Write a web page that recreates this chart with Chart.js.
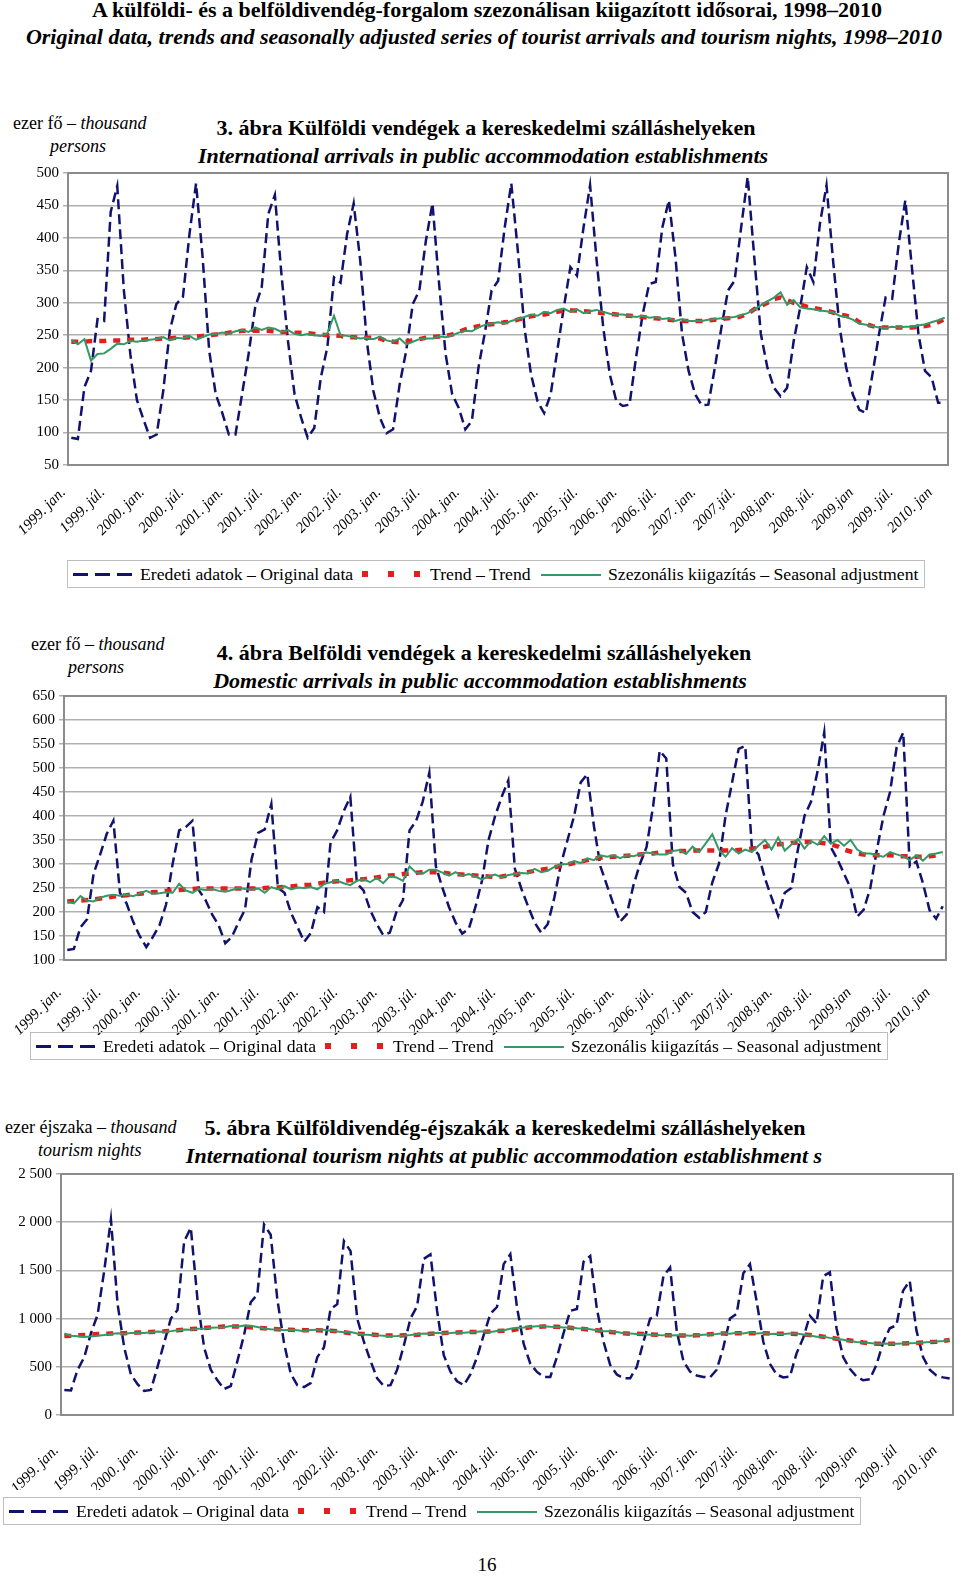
<!DOCTYPE html>
<html>
<head>
<meta charset="utf-8">
<script src="https://cdn.jsdelivr.net/npm/chart.js@4.4.1/dist/chart.umd.min.js"></script>
<style>
    body { margin: 0; background: #fff; }
    #page { position: relative; width: 960px; height: 1577px; overflow: hidden;
        font-family: "Liberation Serif", "Times New Roman", serif; color: #000; }
    .t { position: absolute; white-space: nowrap; line-height: 20px; }
    .c { transform: translateX(-50%); }
    .head { font-size: 22px; font-weight: bold; }
    .ttl { font-size: 22px; font-weight: bold; }
    .unit { font-size: 18px; }
    canvas { position: absolute; left: 0; }
    .legend { position: absolute; height: 28px; width: 858px; border: 1px solid #bdbdbd;
        box-sizing: border-box; font-size: 17.7px; }
    .legend span { position: absolute; top: 3px; line-height: 20px; white-space: nowrap; }
    .legend b { position: absolute; display: block; }
    .dash { left: 5px; top: 12px; width: 59px; height: 3px;
        background: repeating-linear-gradient(to right, #11116e 0 15px, transparent 15px 22px); }
    .dots { left: 294px; top: 10px; width: 58px; height: 6px;
        background: repeating-linear-gradient(to right, #e41e1e 0 6px, transparent 6px 26px); }
    .solid { left: 473px; top: 13px; width: 60px; height: 2px; background: #339966; }
</style>
</head>
<body>
<div id="page">
    <div class="t c head" style="left:487px; top:0px">A külföldi- és a belföldivendég-forgalom szezonálisan kiigazított idősorai, 1998–2010</div>
    <div class="t c head" style="left:484px; top:27px"><i>Original data, trends and seasonally adjusted series of tourist arrivals and tourism nights, 1998–2010</i></div>

    <div class="t unit" style="left:13px; top:113px">ezer fő – <i>thousand</i></div>
    <div class="t unit" style="left:50px; top:136px"><i>persons</i></div>
    <div class="t c ttl" style="left:486px; top:118px">3. ábra Külföldi vendégek a kereskedelmi szálláshelyeken</div>
    <div class="t c ttl" style="left:483px; top:146px"><i>International arrivals in public accommodation establishments</i></div>
    <canvas id="chart1" width="960" height="390" style="top:160px"></canvas>
    <div class="legend" style="left:67px; top:560px">
        <b class="dash"></b><span style="left:72px">Eredeti adatok – Original data</span>
        <b class="dots"></b><span style="left:362px">Trend – Trend</span>
        <b class="solid"></b><span style="left:540px">Szezonális kiigazítás – Seasonal adjustment</span>
    </div>

    <div class="t unit" style="left:31px; top:634px">ezer fő – <i>thousand</i></div>
    <div class="t unit" style="left:68px; top:657px"><i>persons</i></div>
    <div class="t c ttl" style="left:484px; top:643px">4. ábra Belföldi vendégek a kereskedelmi szálláshelyeken</div>
    <div class="t c ttl" style="left:480px; top:671px"><i>Domestic arrivals in public accommodation establishments</i></div>
    <canvas id="chart2" width="960" height="362" style="top:683px"></canvas>
    <div class="legend" style="left:30px; top:1032px">
        <b class="dash"></b><span style="left:72px">Eredeti adatok – Original data</span>
        <b class="dots"></b><span style="left:362px">Trend – Trend</span>
        <b class="solid"></b><span style="left:540px">Szezonális kiigazítás – Seasonal adjustment</span>
    </div>

    <div class="t unit" style="left:5px; top:1117px">ezer éjszaka – <i>thousand</i></div>
    <div class="t unit" style="left:38px; top:1140px"><i>tourism nights</i></div>
    <div class="t c ttl" style="left:505px; top:1118px">5. ábra Külföldivendég-éjszakák a kereskedelmi szálláshelyeken</div>
    <div class="t c ttl" style="left:504px; top:1146px"><i>International tourism nights at public accommodation establishment s</i></div>
    <canvas id="chart3" width="960" height="339" style="top:1161px"></canvas>
    <div class="legend" style="left:3px; top:1497px">
        <b class="dash"></b><span style="left:72px">Eredeti adatok – Original data</span>
        <b class="dots"></b><span style="left:362px">Trend – Trend</span>
        <b class="solid"></b><span style="left:540px">Szezonális kiigazítás – Seasonal adjustment</span>
    </div>

    <div class="t c" style="left:487px; top:1555px; font-size:19px">16</div>
</div>

<script>
// months 1999. jan. - 2010. febr.
const years = [1999, 2000, 2001, 2002, 2003, 2004, 2005, 2006, 2007, 2008, 2009, 2010];
const monthCount = 134;

const xTicks12 = ["1999. jan.", "1999. júl.", "2000. jan.", "2000. júl.", "2001. jan.", "2001. júl.",
    "2002. jan.", "2002. júl.", "2003. jan.", "2003. júl.", "2004. jan.", "2004. júl.", "2005. jan.",
    "2005. júl.", "2006. jan.", "2006. júl.", "2007. jan.", "2007.júl.", "2008.jan.", "2008. júl.",
    "2009.jan", "2009. júl.", "2010. jan"];
const xTicks3 = ["1999. jan.", "1999. júl.", "2000. jan.", "2000. júl.", "2001. jan.", "2001. júl.",
    "2002. jan.", "2002. júl.", "2003. jan.", "2003. júl.", "2004. jan.", "2004. júl.", "2005. jan.",
    "2005. júl.", "2006. jan.", "2006. júl.", "2007. jan.", "2007.júl.", "2008.jan.", "2008. júl.",
    "2009.jan", "2009. júl", "2010. jan"];

// 3. ábra - international arrivals (thousand persons)
const orig1 = [
    92, 90, 170, 195, 275, 272, 440, 480, 320, 220, 150, 120,
    92, 97, 164, 257, 298, 309, 406, 484, 370, 226, 159, 130,
    97, 97, 159, 221, 293, 324, 437, 466, 344, 241, 159, 123,
    92, 107, 185, 232, 339, 331, 406, 453, 365, 241, 164, 123,
    99, 105, 174, 226, 298, 319, 396, 453, 330, 221, 159, 138,
    105, 118, 200, 255, 319, 334, 416, 484, 380, 262, 190, 148,
    130, 159, 226, 293, 355, 342, 416, 481, 365, 262, 190, 148,
    141, 143, 216, 282, 329, 332, 416, 458, 370, 252, 195, 159,
    142, 143, 200, 262, 319, 334, 416, 494, 370, 252, 200, 169,
    156, 169, 241, 293, 355, 332, 422, 481, 365, 262, 200, 159,
    135, 130, 190, 252, 308, 306, 391, 458, 355, 252, 195, 185,
    146, 146];
const trend1 = [
    240, 240, 240, 241, 241, 241, 242, 242, 242, 243, 243, 243,
    244, 244, 245, 245, 246, 246, 247, 248, 249, 250, 251, 252,
    254, 255, 257, 257, 257, 257, 257, 256, 255, 255, 254, 254,
    253, 252, 251, 250, 250, 249, 247, 247, 246, 246, 246, 245,
    241, 240, 239, 240, 242, 244, 246, 247, 248, 249, 251, 255,
    259, 262, 264, 266, 267, 268, 270, 271, 274, 277, 279, 281,
    282, 284, 286, 288, 288, 288, 287, 286, 285, 284, 283, 282,
    281, 280, 279, 278, 277, 276, 275, 274, 273, 272, 272, 272,
    272, 273, 274, 275, 276, 277, 279, 283, 290, 295, 300, 306,
    308, 304, 300, 297, 294, 292, 290, 288, 285, 282, 280, 277,
    270, 267, 264, 262, 262, 262, 262, 262, 262, 263, 264, 266,
    270, 275];
const sa1 = [
    243, 236, 244, 211, 221, 222, 229, 237, 236, 241, 240, 242,
    243, 244, 247, 242, 246, 245, 249, 243, 247, 251, 252, 254,
    252, 256, 258, 255, 262, 258, 262, 260, 255, 258, 252, 250,
    252, 250, 249, 253, 280, 250, 249, 247, 245, 246, 244, 248,
    242, 240, 245, 236, 240, 244, 245, 245, 248, 247, 250, 254,
    257, 256, 262, 266, 268, 270, 268, 272, 275, 278, 282, 280,
    286, 284, 289, 291, 286, 290, 284, 287, 289, 286, 283, 282,
    282, 280, 278, 280, 277, 278, 275, 276, 272, 275, 272, 272,
    272, 274, 275, 276, 277, 278, 281, 284, 290, 296, 302, 308,
    316, 297, 304, 293, 291, 290, 288, 287, 285, 280, 278, 274,
    268, 266, 264, 262, 261, 263, 262, 263, 263, 265, 267, 270,
    273, 277];

// 4. ábra - domestic arrivals (thousand persons)
const orig2 = [
    121, 123, 168, 185, 280, 320, 363, 390, 240, 218, 180, 150,
    127, 148, 172, 215, 300, 370, 377, 390, 245, 225, 195, 172,
    135, 148, 178, 205, 310, 365, 372, 425, 250, 240, 198, 168,
    138, 156, 210, 200, 345, 370, 410, 440, 260, 245, 205, 175,
    152, 157, 200, 225, 370, 390, 430, 490, 295, 250, 210, 178,
    155, 165, 210, 265, 350, 400, 440, 474, 290, 248, 212, 178,
    157, 175, 230, 300, 350, 400, 470, 487, 380, 295, 255, 215,
    180, 195, 255, 300, 335, 420, 536, 520, 300, 252, 240, 200,
    188, 200, 262, 300, 400, 470, 540, 546, 335, 320, 270, 230,
    192, 240, 250, 330, 400, 430, 494, 574, 335, 310, 280, 250,
    190, 205, 250, 330, 400, 450, 543, 574, 295, 305, 260, 204,
    186, 212];
const trend2 = [
    222, 223, 224, 225, 226, 228, 230, 232, 234, 235, 237, 238,
    240, 241, 242, 244, 245, 246, 247, 248, 249, 249, 249, 249,
    249, 249, 249, 249, 249, 249, 250, 251, 251, 252, 253, 255,
    256, 257, 259, 261, 263, 264, 265, 266, 267, 268, 270, 272,
    274, 276, 277, 279, 280, 282, 283, 283, 283, 282, 280, 279,
    278, 277, 276, 275, 274, 273, 274, 276, 278, 280, 283, 286,
    288, 290, 293, 296, 299, 302, 305, 308, 311, 313, 314, 315,
    316, 317, 318, 320, 321, 322, 324, 325, 326, 327, 327, 328,
    328, 328, 328, 328, 328, 328, 329, 330, 332, 334, 336, 339,
    341, 342, 344, 345, 346, 346, 345, 343, 341, 337, 330, 326,
    322, 320, 318, 318, 318, 318, 317, 316, 316, 315, 315, 316,
    318, 321];
const sa2 = [
    222, 218, 233, 224, 222, 230, 234, 236, 234, 236, 233, 238,
    244, 238, 239, 241, 240, 259, 245, 240, 248, 246, 248, 244,
    242, 246, 250, 248, 247, 249, 240, 252, 247, 254, 247, 251,
    250, 252, 247, 258, 262, 265, 260, 256, 265, 268, 262, 271,
    260, 275, 272, 265, 295, 282, 280, 288, 288, 282, 276, 283,
    275, 279, 274, 268, 274, 278, 272, 277, 279, 281, 280, 290,
    283, 286, 294, 299, 300, 306, 302, 312, 308, 318, 315, 318,
    312, 318, 316, 320, 324, 322, 320, 320, 327, 329, 321, 336,
    325, 343, 362, 330, 315, 333, 322, 330, 325, 338, 350, 330,
    355, 328, 340, 352, 332, 348, 340, 358, 342, 350, 338, 350,
    330, 322, 322, 318, 315, 325, 320, 316, 308, 318, 307, 320,
    322, 325];

// 5. ábra - international tourism nights (thousand nights)
const orig3 = [
    260, 255, 470, 600, 850, 1040, 1500, 2030, 1150, 700, 420, 320,
    250, 260, 500, 750, 1000, 1090, 1800, 1943, 1200, 700, 470, 360,
    270, 300, 560, 830, 1170, 1250, 1977, 1870, 1200, 750, 430, 310,
    290, 330, 600, 700, 1100, 1150, 1805, 1700, 1000, 760, 560, 380,
    300, 310, 470, 720, 1000, 1130, 1620, 1665, 1080, 620, 450, 350,
    310, 420, 600, 830, 1050, 1120, 1565, 1668, 1117, 739, 533, 447,
    395, 395, 600, 850, 1080, 1100, 1590, 1650, 1100, 760, 520, 420,
    380, 380, 500, 760, 1000, 1030, 1440, 1530, 870, 560, 450, 410,
    395, 390, 470, 700, 1000, 1050, 1470, 1565, 1180, 760, 530, 420,
    390, 400, 640, 800, 1030, 950, 1440, 1480, 900, 600, 480, 400,
    360, 370, 520, 750, 900, 930, 1290, 1390, 880, 600, 470, 410,
    390, 378];
const trend3 = [
    820, 822, 826, 830, 835, 840, 843, 845, 847, 849, 852, 855,
    858, 862, 866, 868, 872, 878, 885, 891, 896, 902, 908, 913,
    917, 918, 918, 915, 910, 905, 900, 895, 890, 886, 884, 882,
    880, 879, 878, 877, 875, 868, 858, 848, 843, 840, 835, 830,
    826, 825, 825, 826, 828, 832, 838, 843, 847, 850, 853, 856,
    858, 860, 862, 864, 867, 870, 874, 878, 888, 900, 910, 916,
    918, 918, 915, 910, 905, 898, 892, 885, 878, 870, 862, 855,
    848, 843, 842, 840, 836, 832, 828, 826, 825, 825, 825, 826,
    830, 838, 843, 845, 847, 848, 849, 849, 848, 847, 845, 844,
    843, 842, 840, 836, 830, 822, 812, 802, 792, 782, 772, 762,
    752, 745, 740, 738, 738, 740, 742, 745, 748, 752, 756, 761,
    768, 778];
const sa3 = [
    845, 822, 818, 808, 815, 822, 830, 840, 848, 843, 850, 852,
    850, 858, 865, 862, 870, 880, 888, 885, 895, 898, 905, 907,
    910, 922, 915, 928, 925, 912, 898, 890, 888, 880, 885, 878,
    870, 882, 884, 885, 873, 865, 858, 860, 845, 835, 830, 826,
    822, 818, 820, 824, 830, 838, 845, 842, 852, 848, 850, 855,
    852, 858, 864, 870, 862, 872, 880, 895, 905, 908, 915, 920,
    920, 915, 912, 908, 908, 900, 898, 890, 880, 870, 868, 860,
    848, 845, 840, 838, 832, 830, 826, 824, 828, 826, 822, 828,
    832, 836, 840, 848, 844, 852, 845, 858, 846, 850, 840, 842,
    840, 845, 846, 835, 824, 812, 812, 800, 790, 780, 768, 758,
    752, 748, 740, 742, 738, 740, 742, 745, 747, 753, 757, 762,
    768, 780];

let categories = [];
years.forEach(function (y) {
    for (let m = 1; m <= 12; m++) categories.push(y + "." + m);
});
categories = categories.slice(0, monthCount);

const serif = "'Liberation Serif', 'Times New Roman', serif";

// grey frame round the plot area
const framePlugin = {
    id: "frame",
    beforeDatasetsDraw(chart) {
        let a = chart.chartArea;
        let ctx = chart.ctx;
        ctx.save();
        ctx.strokeStyle = "#8c8c8c";
        ctx.lineWidth = 2;
        ctx.strokeRect(a.left, a.top, a.right - a.left, a.bottom - a.top);
        ctx.restore();
    },
};

function spaced(v) {
    if (v < 1000) return String(v);
    return Math.floor(v / 1000) + " " + String(v % 1000).padStart(3, "0");
}

function drawChart(id, cfg) {
    new Chart(document.getElementById(id), {
        type: "line",
        data: {
            labels: categories,
            datasets: [
                { label: "Szezonális kiigazítás – Seasonal adjustment", data: cfg.sa,
                  borderColor: "#339966", borderWidth: 2, order: 1 },
                { label: "Trend – Trend", data: cfg.trend,
                  borderColor: "#e41e1e", borderWidth: 4.5, borderDash: [7, 7], order: 2 },
                { label: "Eredeti adatok – Original data", data: cfg.orig,
                  borderColor: "#11116e", borderWidth: 2.5, borderDash: [10, 5], order: 3 },
            ],
        },
        options: {
            responsive: false,
            animation: false,
            layout: { padding: { top: 12, right: cfg.padRight, left: 0, bottom: 10 } },
            elements: { point: { radius: 0 }, line: { tension: 0, fill: false } },
            plugins: { legend: { display: false }, tooltip: { enabled: false } },
            scales: {
                x: {
                    offset: true,
                    grid: { display: false, drawTicks: false },
                    border: { display: false },
                    ticks: {
                        autoSkip: false, maxRotation: 45, minRotation: 45,
                        padding: cfg.xPad, labelOffset: -8,
                        color: "#000", font: { family: serif, size: 15, style: "italic" },
                        callback: function (v, i) { return i % 6 === 0 ? cfg.xTicks[i / 6] : ""; },
                    },
                    // fixed band for the slanted labels; no extra side padding
                    afterFit: function (s) {
                        s.height = 75;
                        s.paddingLeft = 0;
                        s.paddingRight = 0;
                    },
                },
                y: {
                    min: cfg.min, max: cfg.max,
                    grid: { color: "#b0b0b0", lineWidth: 1.5, tickLength: 5 },
                    border: { display: false },
                    ticks: {
                        stepSize: cfg.step, padding: 4, color: "#000",
                        font: { family: serif, size: 15 },
                        callback: function (v) { return spaced(v); },
                    },
                    afterFit: function (s) { s.width = cfg.yWidth; },
                },
            },
        },
        plugins: [framePlugin],
    });
}

drawChart("chart1", { orig: orig1, trend: trend1, sa: sa1, xTicks: xTicks12,
    min: 50, max: 500, step: 50, yWidth: 68, padRight: 12, xPad: 19 });
drawChart("chart2", { orig: orig2, trend: trend2, sa: sa2, xTicks: xTicks12,
    min: 100, max: 650, step: 50, yWidth: 64, padRight: 14, xPad: 24 });
drawChart("chart3", { orig: orig3, trend: trend3, sa: sa3, xTicks: xTicks3,
    min: 0, max: 2500, step: 500, yWidth: 61, padRight: 7, xPad: 27 });
</script>
</body>
</html>
